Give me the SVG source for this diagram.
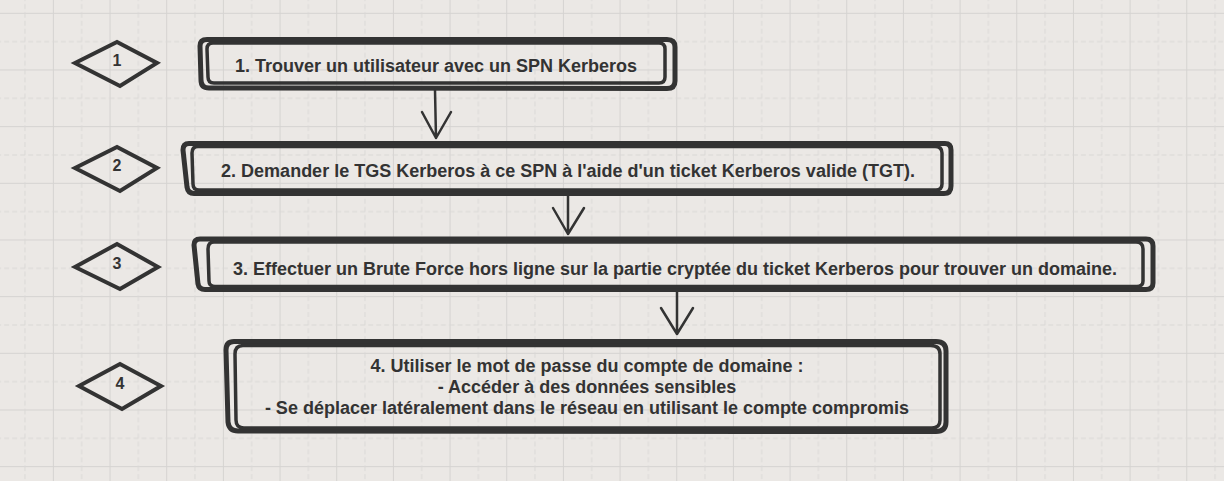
<svg xmlns="http://www.w3.org/2000/svg" width="1224" height="481" viewBox="0 0 1224 481">
  <defs>
    <pattern id="grid" patternUnits="userSpaceOnUse" x="-3.8" y="12.8" width="56.67" height="56.67">
      <path d="M0.5 0 V56.67 M0 0.5 H56.67" stroke="#d5d3d1" stroke-width="1" fill="none"/>
      <path d="M28.8 0 V56.67 M0 28.8 H56.67" stroke="#dad8d6" stroke-width="1" stroke-dasharray="5 3" fill="none"/>
    </pattern>
    <style>
      .edge{fill:none;stroke:#333333;stroke-linecap:round;stroke-linejoin:round}
      .o{stroke-width:5}
      .i{stroke-width:3.5}
      .dia{fill:none;stroke:#333333;stroke-width:4;stroke-linejoin:miter}
      .lbl{font-family:"Liberation Sans",Arial,sans-serif;font-size:18px;font-weight:bold;fill:#333333;text-anchor:middle}
      .num{font-family:"Liberation Sans",Arial,sans-serif;font-size:16px;font-weight:bold;fill:#333333;text-anchor:middle}
      .arr{fill:none;stroke:#333333;stroke-width:2.5;stroke-linecap:round;stroke-linejoin:round}
    </style>
  </defs>
  <rect width="1224" height="481" fill="#ebe8e5"/>
  <rect width="1224" height="481" fill="url(#grid)"/>

  <g id="diamond-1">
    <polygon class="dia" points="75,63 117,42 157,63 120,86"/>
    <text class="num" x="117" y="66">1</text>
  </g>
  <g id="diamond-2">
    <polygon class="dia" points="75,168 117,147 157,168 120,191"/>
    <text class="num" x="117" y="171">2</text>
  </g>
  <g id="diamond-3">
    <polygon class="dia" points="75,267 117,244 158,267 120,289"/>
    <text class="num" x="117" y="269">3</text>
  </g>
  <g id="diamond-4">
    <polygon class="dia" points="79,386 120,364 161,386 122,409"/>
    <text class="num" x="120" y="389">4</text>
  </g>

  <g id="node-1">
    <path class="edge o" d="M207 39.5 L667 39.5 Q675 39.5 675 47 L675 81 Q675 88.5 667 88.5 L209 88 Q201 88 201 80 L200 46 Q200 39.5 207 39.5 Z"/>
    <path class="edge i" d="M213 43 L659 43 Q665 43 665 49 L665 77 Q665 83 659 83 L214 83 Q208 83 208 77 L207 49 Q207 43 213 43"/>
    <text class="lbl" x="436" y="72">1. Trouver un utilisateur avec un SPN Kerberos</text>
  </g>

  <g id="node-2">
    <path class="edge o" d="M189 143.5 L945 143.5 Q951 143.5 951 150 L951 186 Q951 193.5 944 193.5 L194 193.5 Q188 193.5 187 187 L183 150 Q183 143.5 189 143.5 Z"/>
    <path class="edge i" d="M198 146.5 L935 146.5 Q942 146.5 942 153 L942 184 Q942 190 936 190 L199 190 Q193 190 193 184 L192 153 Q192 146.5 198 146.5"/>
    <text class="lbl" x="568" y="177">2. Demander le TGS Kerberos à ce SPN à l'aide d'un ticket Kerberos valide (TGT).</text>
  </g>

  <g id="node-3">
    <path class="edge o" d="M200 239 L1146 239 Q1153 239 1153 246 L1153 283 Q1153 289.5 1146 289.5 L205 289.5 Q199 289.5 198 284 L194 245 Q194 239 200 239 Z"/>
    <path class="edge i" d="M214 242 L1136 242 Q1143 242 1143 249 L1143 281 Q1143 286.5 1137 286.5 L215 286.5 Q209 286.5 209 281 L208 249 Q208 242 214 242"/>
    <text class="lbl" x="675" y="275">3. Effectuer un Brute Force hors ligne sur la partie cryptée du ticket Kerberos pour trouver un domaine.</text>
  </g>

  <g id="node-4">
    <path class="edge o" d="M234 341.5 L936 341.5 Q946 341.5 946 351 L946 422 Q946 431.5 936 431.5 L238 431 Q229 431 228 422 L226 350 Q226 341.5 234 341.5 Z"/>
    <path class="edge i" d="M243 345.5 L931 345.5 Q940 345.5 940 354 L940 420 Q940 428 932 428 L244 428 Q236 428 236 420 L235 354 Q235 345.5 243 345.5"/>
    <text class="lbl" x="587" y="372">4. Utiliser le mot de passe du compte de domaine :</text>
    <text class="lbl" x="587" y="393">- Accéder à des données sensibles</text>
    <text class="lbl" x="587" y="414">- Se déplacer latéralement dans le réseau en utilisant le compte compromis</text>
  </g>

  <g id="connectors">
    <path class="arr" d="M435 90 L436 138 M422 112 L436 138 L451 112"/>
    <path class="arr" d="M568 196 L568 234 M553 208 L568 234 L584 208"/>
    <path class="arr" d="M677 292 L677 334 M661 308 L677 334 L693 308"/>
  </g>
</svg>
